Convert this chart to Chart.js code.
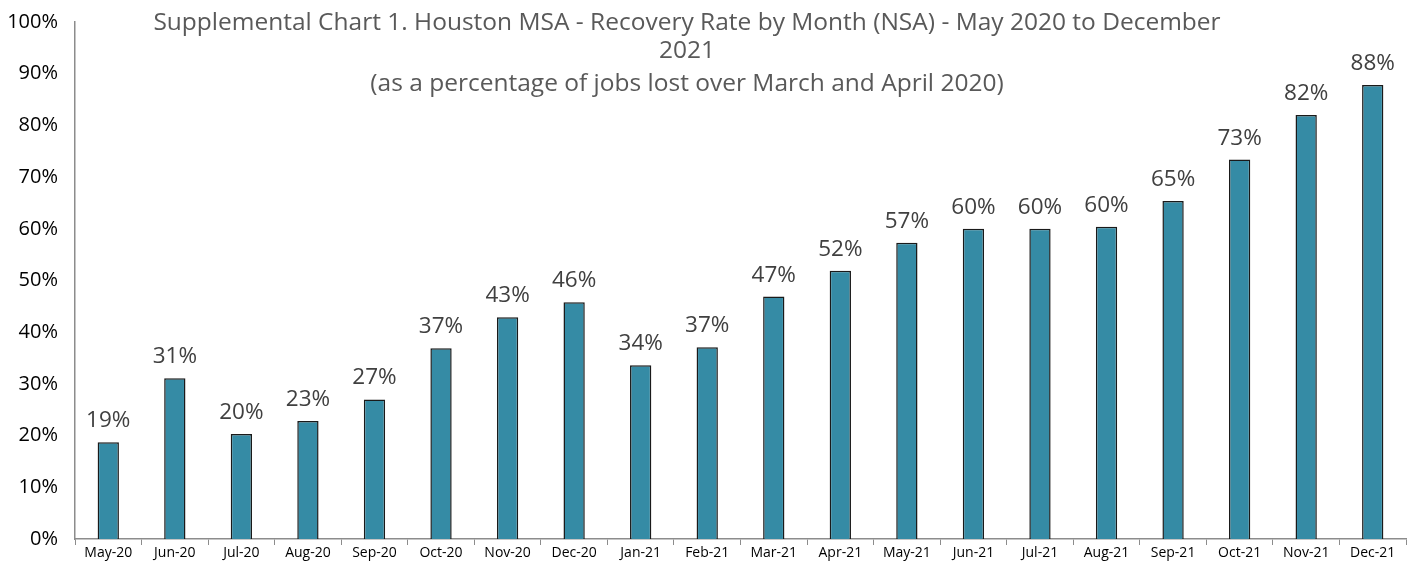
<!DOCTYPE html>
<html>
<head>
<meta charset="utf-8">
<script src="https://cdn.jsdelivr.net/npm/chart.js@4/dist/chart.umd.min.js"></script>
<style>
html,body{margin:0;padding:0;background:#fff;}
#wrap{width:1416px;height:564px;position:relative;}
</style>
</head>
<body>
<div id="wrap"><canvas id="c" width="1416" height="564"></canvas></div>
<script>
const categories = ["May-20","Jun-20","Jul-20","Aug-20","Sep-20","Oct-20","Nov-20","Dec-20","Jan-21","Feb-21","Mar-21","Apr-21","May-21","Jun-21","Jul-21","Aug-21","Sep-21","Oct-21","Nov-21","Dec-21"];
const recoveryRate = [18.7,31.1,20.3,22.8,27.0,36.9,42.9,45.8,33.6,37.1,46.9,51.9,57.3,60.0,60.0,60.4,65.4,73.4,82.0,87.8];
const yTicks = [0,10,20,30,40,50,60,70,80,90,100];
const titleLines = ["Supplemental Chart 1. Houston MSA - Recovery Rate by Month (NSA) - May 2020 to December","2021","(as a percentage of jobs lost over March and April 2020)"];

const FONT = "'Open Sans', 'DejaVu Sans', sans-serif";

const labelPlugin = {
  id: 'barLabels',
  afterDatasetsDraw(chart) {
    const ctx = chart.ctx;
    const meta = chart.getDatasetMeta(0);
    ctx.save();
    ctx.font = "22.5px " + FONT;
    ctx.fillStyle = "#404040";
    ctx.textAlign = "center";
    ctx.textBaseline = "alphabetic";
    meta.data.forEach((bar, i) => {
      ctx.fillText(Math.round(recoveryRate[i]) + "%", bar.x, bar.y - 15);
    });
    ctx.restore();
  }
};

const titlePlugin = {
  id: 'overlayTitle',
  afterDraw(chart) {
    const ctx = chart.ctx;
    ctx.save();
    ctx.font = "24.5px " + FONT;
    ctx.fillStyle = "#595959";
    ctx.textAlign = "center";
    ctx.textBaseline = "middle";
    const ys = [23, 51, 84];
    titleLines.forEach((t, i) => ctx.fillText(t, 687, ys[i]));
    ctx.restore();
  }
};

new Chart(document.getElementById('c'), {
  type: 'bar',
  data: {
    labels: categories,
    datasets: [{
      data: recoveryRate,
      backgroundColor: '#358BA5',
      borderColor: '#1a1a1a',
      borderWidth: 1.5,
      categoryPercentage: 1,
      barPercentage: 0.32
    }]
  },
  options: {
    responsive: false,
    animation: false,
    layout: { padding: { top: 19, right: 10, left: 0, bottom: 0 } },
    plugins: { legend: { display: false }, tooltip: { enabled: false }, title: { display: false } },
    scales: {
      x: {
        grid: { display: true, drawOnChartArea: false, drawTicks: true, tickLength: 6, offset: true, color: '#8c8c8c' },
        border: { color: '#8c8c8c', width: 1.5 },
        ticks: { color: '#000', font: { family: FONT, size: 14 }, padding: 0, maxRotation: 0, autoSkip: false },
        afterFit(s) { s.height = 25; }
      },
      y: {
        min: 0, max: 100,
        afterBuildTicks(s) { s.ticks = yTicks.map(v => ({ value: v })); },
        grid: { display: false, drawTicks: false },
        border: { color: '#8c8c8c', width: 1.5 },
        ticks: { color: '#000', font: { family: FONT, size: 20, lineHeight: 0.5 }, padding: 17, callback: v => v + '%' },
        afterFit(s) { s.width = 75; }
      }
    }
  },
  plugins: [labelPlugin, titlePlugin]
});
</script>
</body>
</html>
